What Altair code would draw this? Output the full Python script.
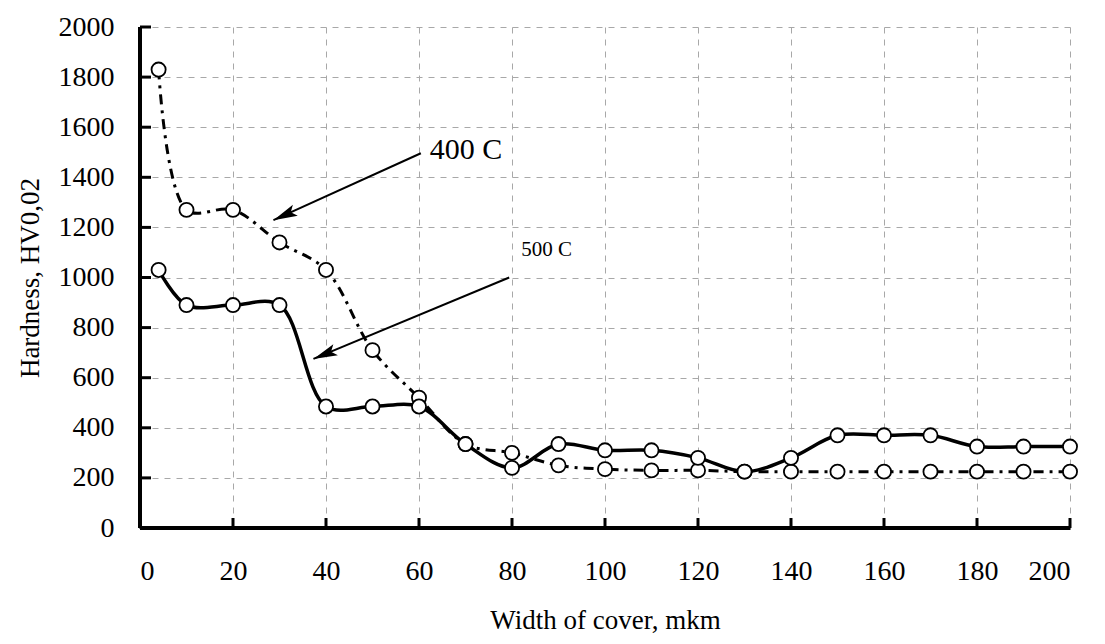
import altair as alt
import pandas as pd

# ---- data ----
widths = [4, 10, 20, 30, 40, 50, 60, 70, 80, 90, 100, 110, 120, 130, 140, 150, 160, 170, 180, 190, 200]
hard_400 = [1830, 1270, 1270, 1140, 1030, 710, 520, 335, 300, 250, 235, 230, 230, 225, 225, 225, 225, 225, 225, 225, 225]
hard_500 = [1030, 890, 890, 890, 485, 485, 485, 335, 240, 335, 310, 310, 280, 225, 280, 370, 370, 370, 325, 325, 325]

x_ticks = [0, 20, 40, 60, 80, 100, 120, 140, 160, 180, 200]
y_ticks = [0, 200, 400, 600, 800, 1000, 1200, 1400, 1600, 1800, 2000]

labels = ["400 C", "500 C"]
label_x = [62.3, 82.0]
label_y = [1510, 1110]
label_size = [30, 21]
arrow_x = [60.4, 79.4]
arrow_y = [1496, 1000]
arrow_tip_x = [28.7, 37.3]
arrow_tip_y = [1229, 675]
arrow_angle = [245.7, 247.5]

FONT = "Liberation Serif"
W, H = 930, 501

df400 = pd.DataFrame({"x": widths, "y": hard_400})
df500 = pd.DataFrame({"x": widths, "y": hard_500})
df_ann = pd.DataFrame({"label": labels, "lx": label_x, "ly": label_y, "size": label_size,
                       "ax": arrow_x, "ay": arrow_y, "tx": arrow_tip_x, "ty": arrow_tip_y,
                       "angle": arrow_angle})
df_xt = pd.DataFrame({"v": x_ticks})
df_yt = pd.DataFrame({"v": y_ticks})

xs = alt.Scale(domain=[0, 200], nice=False, zero=False)
ys = alt.Scale(domain=[0, 2000], nice=False, zero=False)

x_axis = alt.Axis(values=x_ticks, title="Width of cover, mkm", grid=True, format="d",
                  gridDash=[6, 6], gridColor="#a8a8a8", gridWidth=1,
                  domainColor="black", domainWidth=3, tickSize=0,
                  labelPadding=29, titlePadding=22)
y_axis = alt.Axis(values=y_ticks, title="Hardness, HV0,02", grid=True, format="d",
                  gridDash=[6, 6], gridColor="#a8a8a8", gridWidth=1,
                  domainColor="black", domainWidth=3, tickSize=0,
                  labelPadding=26, titlePadding=14)

base_line500 = alt.Chart(df500).mark_line(
    color="black", strokeWidth=3.5, interpolate="catmull-rom"
).encode(x=alt.X("x:Q", scale=xs, axis=x_axis), y=alt.Y("y:Q", scale=ys, axis=y_axis))

line400 = alt.Chart(df400).mark_line(
    color="black", strokeWidth=3, strokeDash=[10, 6, 3, 6], interpolate="catmull-rom"
).encode(x=alt.X("x:Q", scale=xs), y=alt.Y("y:Q", scale=ys))

pts400 = alt.Chart(df400).mark_point(
    shape="circle", filled=True, fill="white", stroke="black", strokeWidth=1.8, size=200, opacity=1
).encode(x=alt.X("x:Q", scale=xs), y=alt.Y("y:Q", scale=ys))

pts500 = alt.Chart(df500).mark_point(
    shape="circle", filled=True, fill="white", stroke="black", strokeWidth=1.8, size=200, opacity=1
).encode(x=alt.X("x:Q", scale=xs), y=alt.Y("y:Q", scale=ys))

# inward tick marks
xticks_marks = alt.Chart(df_xt).mark_rule(color="black", strokeWidth=3).encode(
    x=alt.X("v:Q", scale=xs), y=alt.value(H), y2=alt.value(H - 10))
yticks_marks = alt.Chart(df_yt).mark_rule(color="black", strokeWidth=3).encode(
    y=alt.Y("v:Q", scale=ys), x=alt.value(0), x2=alt.value(11))

# axis lines drawn on top
x_line = alt.Chart(df_xt).mark_rule(color="black", strokeWidth=3.5).encode(
    x=alt.value(0), x2=alt.value(W), y=alt.value(H))
y_line = alt.Chart(df_yt).mark_rule(color="black", strokeWidth=3.5).encode(
    y=alt.value(0), y2=alt.value(H), x=alt.value(0))

arrows = alt.Chart(df_ann).mark_rule(color="black", strokeWidth=2).encode(
    x=alt.X("ax:Q", scale=xs), y=alt.Y("ay:Q", scale=ys),
    x2="tx:Q", y2="ty:Q")

heads = alt.Chart(df_ann).mark_point(
    shape="M0,0L-0.6,2.4L0,1.9L0.6,2.4Z", filled=True, color="black", size=400, opacity=1
).encode(x=alt.X("tx:Q", scale=xs), y=alt.Y("ty:Q", scale=ys),
         angle=alt.Angle("angle:Q", scale=None))

texts = alt.Chart(df_ann).mark_text(
    font=FONT, align="left", baseline="middle", color="black"
).encode(x=alt.X("lx:Q", scale=xs), y=alt.Y("ly:Q", scale=ys),
         text="label:N", size=alt.Size("size:Q", scale=None, legend=None))

chart = alt.layer(
    base_line500, line400, arrows, heads, pts400, pts500,
    x_line, y_line, xticks_marks, yticks_marks, texts
).properties(
    width=W, height=H,
    autosize=alt.AutoSizeParams(type="none"),
    padding={"left": 132, "top": 19, "right": 27, "bottom": 108},
).configure(background="white").configure_view(stroke=None).configure_axis(
    labelFont=FONT, titleFont=FONT, labelFontSize=28, titleFontSize=27,
    titleFontWeight="normal", labelColor="black", titleColor="black"
)

chart.save("out.html", embed_options={"renderer": "svg", "actions": False})
